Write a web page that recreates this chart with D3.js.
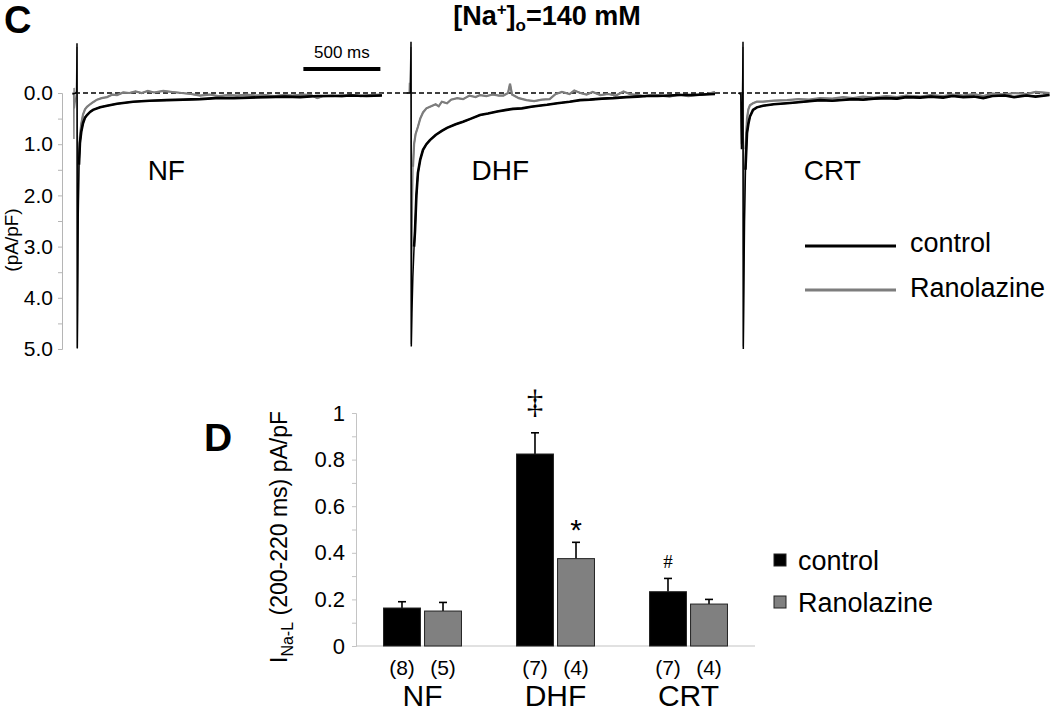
<!DOCTYPE html>
<html>
<head>
<meta charset="utf-8">
<script src="https://cdn.jsdelivr.net/npm/d3@7"></script>
<style>
body{margin:0;background:#fff;}
svg{display:block;font-family:"Liberation Sans",Arial,sans-serif;}
</style>
</head>
<body>
<svg id="fig" width="1050" height="713"></svg>
<script>
// ---- panel C: current traces, [time ms, current pA/pF] ----
var nfControl = [[-30,0.02],[-4,0],[-2,-0.05],[0,-0.97],[1,0.5],[2,4.98],[4,4.2],[8,2.4],[13,1.4],[19,0.98],
  [28,0.75],[39,0.59],[52,0.48],[65,0.43],[85,0.37],[104,0.33],[150,0.28],[195,0.25],[260,0.21],[364,0.17],
  [470,0.15],[584,0.14],[690,0.13],[799,0.12],[900,0.1],[1020,0.1],[1120,0.09],[1234,0.08],[1350,0.07],
  [1450,0.08],[1560,0.06],[1662,0.06],[1780,0.05],[1880,0.06],[1980,0.05]];
var nfRanolazine = [[-30,0],[-22,0],[-20,0.9],[-19,-0.1],[-17,0.3],[-4,0],[0,-0.9],[2,5],[4,4],[8,2.2],[13,1.2],
  [19,0.85],[28,0.6],[39,0.42],[52,0.32],[65,0.27],[85,0.22],[104,0.18],[130,0.13],[160,0.1],[195,0.08],
  [230,0.03],[260,0.04],[300,-0.01],[340,0],[380,-0.03],[420,0],[460,-0.04],[500,-0.01],[560,-0.04],
  [620,-0.02],[680,0],[740,0.02],[800,0.05],[860,0.03],[920,0.06],[980,0.04],[1040,0.05],[1100,0.03],
  [1160,0.05],[1220,0.04],[1280,0.06],[1340,0.04],[1400,0.05],[1460,0.03],[1520,0.04],[1560,0.1],
  [1600,0.06],[1660,0.05],[1720,0.07],[1780,0.04],[1840,0.06],[1900,0.04],[1980,0.03]];
var dhfControl = [[-30,0],[-3,0],[0,-1],[1,0.3],[2,4.95],[6,4.3],[12,3.6],[20,3],[26,2.7],[35,2],[45,1.56],
  [60,1.3],[78,1.11],[100,1],[123,0.92],[160,0.82],[200,0.74],[234,0.68],[290,0.61],[338,0.56],[390,0.5],
  [448,0.43],[500,0.4],[560,0.36],[620,0.33],[662,0.31],[720,0.3],[780,0.27],[830,0.25],[883,0.23],
  [950,0.2],[1030,0.17],[1097,0.14],[1160,0.13],[1240,0.11],[1312,0.1],[1400,0.08],[1470,0.07],
  [1532,0.06],[1600,0.06],[1680,0.05],[1747,0.04],[1820,0.04],[1900,0.03],[1974,0.02]];
var dhfRanolazine = [[-30,0],[-12,0],[-10,-0.2],[-8,0],[0,-0.9],[2,4.9],[5,3.5],[9,2.2],[13,1.44],[20,1],
  [30,0.8],[45,0.66],[60,0.5],[78,0.38],[100,0.3],[123,0.27],[160,0.22],[180,0.26],[200,0.17],[234,0.2],
  [260,0.13],[300,0.1],[338,0.12],[380,0.05],[420,0.08],[448,0.04],[490,0.06],[530,0.03],[570,0.05],
  [600,0.05],[630,0],[643,-0.18],[656,0.03],[700,0.1],[750,0.14],[800,0.16],[850,0.13],[900,0.12],
  [940,0.02],[980,-0.02],[1030,0.02],[1060,-0.05],[1100,0],[1140,0.03],[1180,-0.02],[1230,0.04],
  [1280,0.02],[1330,0.05],[1380,-0.03],[1420,0.02],[1470,0.04],[1520,0.06],[1570,0.03],[1620,0.05],
  [1680,0.07],[1740,0.03],[1800,0.06],[1860,0.04],[1920,0.02],[1974,-0.02]];
var crtControl = [[-30,0],[-14,0.02],[-12,0.7],[-10,1.1],[-8,0.8],[-3,0.1],[0,-1],[2,5],[5,4],[10,2.5],
  [16,1.5],[26,0.78],[35,0.6],[45,0.46],[65,0.33],[90,0.28],[130,0.25],[200,0.22],[286,0.2],[360,0.18],
  [500,0.14],[580,0.15],[714,0.12],[780,0.13],[850,0.11],[930,0.1],[1000,0.11],[1060,0.08],[1150,0.09],
  [1220,0.07],[1300,0.09],[1360,0.06],[1430,0.08],[1500,0.07],[1560,0.1],[1620,0.06],[1700,0.05],
  [1760,0.08],[1840,0.05],[1900,0.07],[1990,0.04]];
var crtRanolazine = [[-30,0],[-14,0.02],[-12,0.6],[-10,1],[-8,0.7],[-3,0.1],[0,-0.9],[2,4.95],[5,3.6],
  [10,2],[16,1.1],[26,0.5],[35,0.32],[45,0.24],[65,0.2],[90,0.17],[130,0.17],[200,0.15],[286,0.14],
  [360,0.12],[430,0.13],[500,0.1],[580,0.11],[650,0.08],[714,0.1],[780,0.07],[850,0.09],[930,0.06],
  [1000,0.08],[1060,0.05],[1150,0.07],[1220,0.04],[1300,0.06],[1360,0.03],[1430,0.05],[1500,0.02],
  [1560,0.06],[1620,0.01],[1700,0.03],[1760,0],[1840,0.02],[1900,-0.02],[1990,0]];

var traceGroups = ["NF","DHF","CRT"];
var traceTicks = [0,1,2,3,4,5];
var traceMinor = [0.5,1.5,2.5,3.5,4.5];

// ---- panel D: late Na current bars ----
var groups = ["NF","DHF","CRT"];
var series = ["control","Ranolazine"];
var controlMean = [0.163,0.824,0.233];
var controlErr = [0.027,0.091,0.057];
var ranoMean = [0.15,0.375,0.18];
var ranoErr = [0.037,0.07,0.02];
var controlN = ["(8)","(7)","(7)"];
var ranoN = ["(5)","(4)","(4)"];
var controlMark = ["","\u2021","#"];
var ranoMark = ["","*",""];
var barTicks = [0,0.2,0.4,0.6,0.8,1];
var barMinor = [0.1,0.3,0.5,0.7,0.9];

var svg = d3.select("#fig");
var gray = "#7d7d7d";

// ================= panel C =================
var yTrace = d3.scaleLinear().domain([0,5]).range([93,349]);
var panelLeft = [77,411,743];
var traces = [[nfRanolazine,nfControl],[dhfRanolazine,dhfControl],[crtRanolazine,crtControl]];

svg.append("text").text("C")
    .attr("x",4).attr("y",33)
    .attr("font-size",38).attr("font-weight","bold");

var title = svg.append("text")
    .attr("x",547).attr("y",25)
    .attr("text-anchor","middle")
    .attr("font-size",27).attr("font-weight","bold");
title.append("tspan").text("[Na");
title.append("tspan").text("+").attr("font-size",17).attr("dy",-10);
title.append("tspan").text("]").attr("dy",10);
title.append("tspan").text("o").attr("font-size",17).attr("dy",6);
title.append("tspan").text("=140 mM").attr("dy",-6);

// y axis
var axC = svg.append("g").attr("transform","translate(62,0)");
axC.call(d3.axisLeft(yTrace).tickValues(traceTicks)
    .tickFormat(d3.format(".1f")).tickSize(4).tickSizeOuter(0).tickPadding(5));
axC.append("g").call(d3.axisLeft(yTrace).tickValues(traceMinor)
    .tickFormat("").tickSize(4).tickSizeOuter(0));
axC.selectAll("path,line").attr("stroke","#b5b5b5");
axC.selectAll("text").attr("font-size",21).attr("fill","#000")
    .attr("font-family","Liberation Sans, Arial, sans-serif");

svg.append("text").text("(pA/pF)")
    .attr("transform","translate(18,240) rotate(-90)")
    .attr("text-anchor","middle").attr("font-size",19);

// baseline
svg.append("line")
    .attr("x1",75).attr("x2",1050)
    .attr("y1",yTrace(0)).attr("y2",yTrace(0))
    .attr("stroke","#000").attr("stroke-width",1.3)
    .attr("stroke-dasharray","5,3");

traces.forEach(function(pair,i){
    var xs = d3.scaleLinear().domain([0,2000]).range([panelLeft[i],panelLeft[i]+308]);
    var line = d3.line()
        .x(function(d){return xs(d[0]);})
        .y(function(d){return yTrace(d[1]);});
    var tail = function(arr){return arr.filter(function(d){return d[0]>=13;});};
    var g = svg.append("g").attr("fill","none");
    // thin transient + thicker tail
    g.append("path").datum(pair[0])
        .attr("stroke",gray).attr("stroke-width",1.4).attr("d",line);
    g.append("path").datum(tail(pair[0]))
        .attr("stroke",gray).attr("stroke-width",2.2).attr("d",line);
    g.append("path").datum(pair[1])
        .attr("stroke","#000").attr("stroke-width",1.5).attr("d",line);
    g.append("path").datum(tail(pair[1]))
        .attr("stroke","#000").attr("stroke-width",2.6).attr("d",line);
    svg.append("text").text(traceGroups[i])
        .attr("x",xs(580)).attr("y",180)
        .attr("text-anchor","middle").attr("font-size",28);
    if(i===0){
        // 500 ms scale bar
        svg.append("line")
            .attr("x1",xs(1470)).attr("x2",xs(1970))
            .attr("y1",69).attr("y2",69)
            .attr("stroke","#000").attr("stroke-width",4);
        svg.append("text").text("500 ms")
            .attr("x",xs(1720)).attr("y",58)
            .attr("text-anchor","middle").attr("font-size",17);
    }
});

// legend C
var legC = svg.append("g");
series.forEach(function(s,i){
    legC.append("line")
        .attr("x1",805).attr("x2",896)
        .attr("y1",246+i*44).attr("y2",246+i*44)
        .attr("stroke",i===0?"#000":gray).attr("stroke-width",3);
    legC.append("text").text(s)
        .attr("x",910).attr("y",252+i*45)
        .attr("font-size",27);
});

// ================= panel D =================
var yBar = d3.scaleLinear().domain([0,1]).range([646,413]);
var x0 = d3.scaleBand().domain(groups).range([356,755])
    .paddingInner(0.414).paddingOuter(0.207);
var x1 = d3.scaleBand().domain(series).range([0,x0.bandwidth()]).paddingInner(0.1);

svg.append("text").text("D")
    .attr("x",204).attr("y",451)
    .attr("font-size",39).attr("font-weight","bold");

var axD = svg.append("g").attr("transform","translate(356,0)");
axD.call(d3.axisLeft(yBar).tickValues(barTicks)
    .tickFormat(function(d){return (d===0||d===1)?String(d):d3.format(".1f")(d);})
    .tickSize(4).tickSizeOuter(0).tickPadding(7));
axD.append("g").call(d3.axisLeft(yBar).tickValues(barMinor)
    .tickFormat("").tickSize(4).tickSizeOuter(0));
axD.selectAll("path,line").attr("stroke","#c4c4c4");
axD.selectAll("text").attr("font-size",22).attr("fill","#000")
    .attr("font-family","Liberation Sans, Arial, sans-serif");

svg.append("line")
    .attr("x1",356).attr("x2",755)
    .attr("y1",yBar(0)).attr("y2",yBar(0))
    .attr("stroke","#c4c4c4").attr("stroke-width",1.2);

var yTitle = svg.append("text")
    .attr("transform","translate(287,537) rotate(-90)")
    .attr("text-anchor","middle").attr("font-size",23);
yTitle.append("tspan").text("I");
yTitle.append("tspan").text("Na-L").attr("font-size",16).attr("dy",6);
yTitle.append("tspan").text(" (200-220 ms) pA/pF").attr("dy",-6);

var barRows = groups.map(function(g,i){
    return [
        {g:g,s:"control",v:controlMean[i],e:controlErr[i],n:controlN[i],m:controlMark[i]},
        {g:g,s:"Ranolazine",v:ranoMean[i],e:ranoErr[i],n:ranoN[i],m:ranoMark[i]}
    ];
});

var gGroups = svg.selectAll(".grp").data(barRows).enter().append("g")
    .attr("class","grp")
    .attr("transform",function(d){return "translate("+x0(d[0].g)+",0)";});

var cx = function(d){return x1(d.s)+x1.bandwidth()/2;};
var bars = gGroups.selectAll(".bar").data(function(d){return d;}).enter().append("g");
bars.append("line")
    .attr("x1",cx).attr("x2",cx)
    .attr("y1",function(d){return yBar(d.v);})
    .attr("y2",function(d){return yBar(d.v+d.e);})
    .attr("stroke","#000").attr("stroke-width",1.6);
bars.append("line")
    .attr("x1",function(d){return cx(d)-4;})
    .attr("x2",function(d){return cx(d)+4;})
    .attr("y1",function(d){return yBar(d.v+d.e);})
    .attr("y2",function(d){return yBar(d.v+d.e);})
    .attr("stroke","#000").attr("stroke-width",1.6);
bars.append("rect")
    .attr("x",function(d){return x1(d.s);})
    .attr("width",x1.bandwidth())
    .attr("y",function(d){return yBar(d.v);})
    .attr("height",function(d){return yBar(0)-yBar(d.v);})
    .attr("fill",function(d){return d.s==="control"?"#000":"#808080";})
    .attr("stroke","#222").attr("stroke-width",1);
bars.append("text")
    .text(function(d){return d.n;})
    .attr("x",cx)
    .attr("y",675)
    .attr("text-anchor","middle").attr("font-size",21);
bars.append("text")
    .text(function(d){return d.m;})
    .attr("x",cx)
    .attr("y",function(d){
        if(d.m==="\u2021") return yBar(d.v+d.e)-20;
        if(d.m==="*") return yBar(d.v+d.e)-2;
        return yBar(d.v+d.e)-10;
    })
    .attr("text-anchor","middle")
    .attr("font-family",function(d){return d.m==="*"?"Liberation Sans, Arial, sans-serif":"Liberation Serif, Times New Roman, serif";})
    .attr("font-size",function(d){
        if(d.m==="\u2021") return 33;
        if(d.m==="*") return 30;
        return 19;
    });

gGroups.append("text")
    .text(function(d){return d[0].g;})
    .attr("x",x0.bandwidth()/2)
    .attr("y",706)
    .attr("text-anchor","middle").attr("font-size",30);

// legend D
var legD = svg.append("g");
series.forEach(function(s,i){
    legD.append("rect")
        .attr("x",774).attr("y",554+i*42)
        .attr("width",12).attr("height",12)
        .attr("fill",i===0?"#000":"#808080")
        .attr("stroke","#222").attr("stroke-width",1);
    legD.append("text").text(s)
        .attr("x",798).attr("y",570+i*42)
        .attr("font-size",27);
});
</script>
</body>
</html>
